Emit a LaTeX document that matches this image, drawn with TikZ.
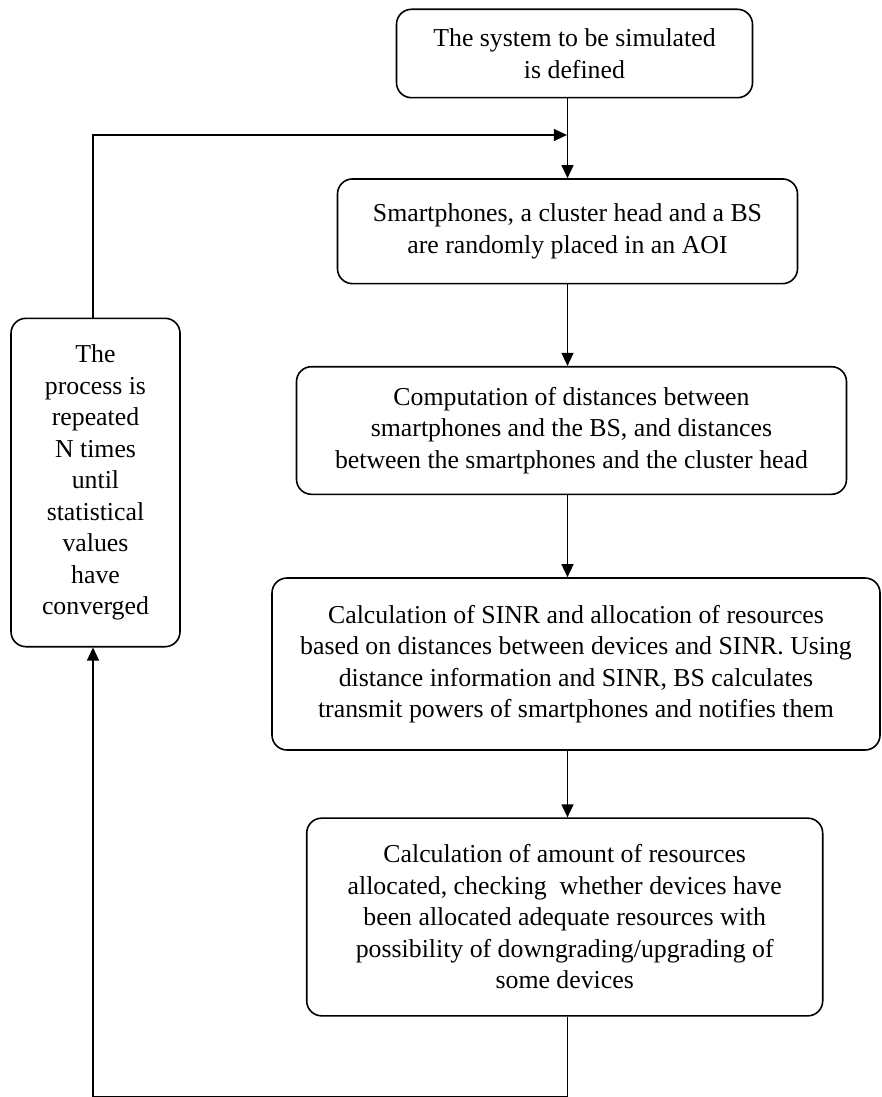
\documentclass[tikz,border=0pt]{standalone}
\usepackage{fontspec}
\setmainfont{Liberation Serif}
\usetikzlibrary{arrows.meta}
\begin{document}
\begin{tikzpicture}[x=1pt,y=-1pt,
  box/.style={draw, line width=1.6pt, rounded corners=15pt, align=center,
    inner sep=0pt, font=\fontsize{25.8}{31.5}\selectfont},
  flow/.style={line width=1.3pt, -{Triangle[length=13pt,width=12pt]}}]
\useasboundingbox (0,0) rectangle (882,1097);

% process steps
\node[box, minimum width=356pt, minimum height=88.4pt] (B1) at (574.5,53.5)
  {The system to be simulated\\is defined};
\node[box, minimum width=460pt, minimum height=104.7pt] (B2) at (567.5,231.3)
  {Smartphones, a cluster head and a BS\\are randomly placed in an AOI};
\node[box, minimum width=550pt, minimum height=127.6pt] (B3) at (571.5,430.5)
  {Computation of distances between\\smartphones and the BS, and distances\\between the smartphones and the cluster head};
\node[box, minimum width=608pt, minimum height=172pt] (B4) at (576,664)
  {Calculation of SINR and allocation of resources\\based on distances between devices and SINR. Using\\distance information and SINR, BS calculates\\transmit powers of smartphones and notifies them};
\node[box, minimum width=516pt, minimum height=197.7pt] (B5) at (564.7,917)
  {Calculation of amount of resources\\allocated, checking\ \ whether devices have\\been allocated adequate resources with\\possibility of downgrading/upgrading of\\some devices};

% repetition box
\node[box, minimum width=169pt, minimum height=328.4pt] (L) at (95.5,482.5)
  {The\\process is\\repeated\\N times\\until\\statistical\\values\\have\\converged};

% main column and loop routing points
\coordinate (spine) at (567.5,0);
\coordinate (join) at (567.5,135);
\coordinate (bl) at (93,1096.4);

\draw[flow] (B1.south -| spine) -- (B2.north -| spine);
\draw[flow] (B2.south -| spine) -- (B3.north -| spine);
\draw[flow] (B3.south -| spine) -- (B4.north -| spine);
\draw[flow] (B4.south -| spine) -- (B5.north -| spine);

% feedback loop
\draw[flow] (B5.south -| spine) |- (bl) -- (bl |- L.south);
\draw[flow, shorten >=0.6pt] (L.north -| bl) |- (join);
\end{tikzpicture}
\end{document}
